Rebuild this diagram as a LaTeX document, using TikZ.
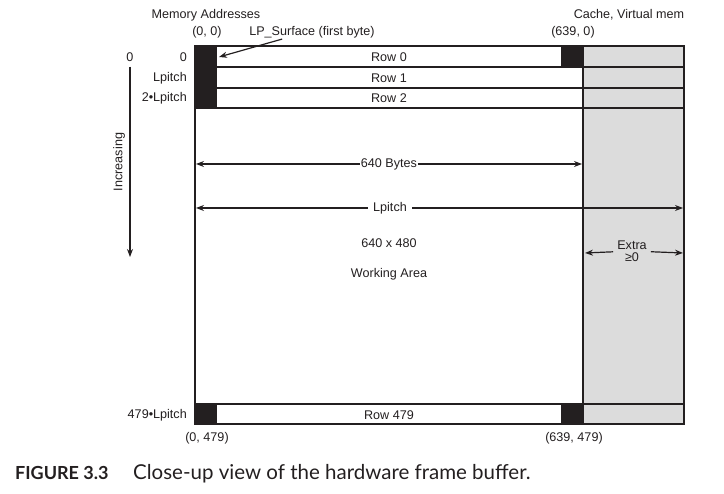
\documentclass[tikz,border=0pt]{standalone}
\usepackage{fontspec}
\setmainfont{Liberation Sans}
\newfontfamily\capfont{Lato}
\definecolor{inkdark}{RGB}{35,31,32}
\definecolor{cachegray}{RGB}{220,220,220}
\usetikzlibrary{arrows.meta,positioning}

\begin{document}
\begin{tikzpicture}[x=1pt, y=-1pt,
    frameline/.style={draw=inkdark, line width=1.5pt},
    lbl/.style={font=\fontsize{12.6}{12}\selectfont, text=inkdark, inner sep=1pt},
    dimarrow/.style={draw=inkdark, line width=1.2pt, -{Stealth[length=8pt,width=6pt]}}]
    \useasboundingbox (0,0) rectangle (724,494);

    % cache column and black corner bytes
    \fill[cachegray] (583,46) rectangle (684,424);
    \fill[inkdark] (195,46) rectangle (217,108);
    \fill[inkdark] (561,46) rectangle (583,67);
    \fill[inkdark] (195,404) rectangle (217,424);
    \fill[inkdark] (561,404) rectangle (583,424);

    % frame buffer outline and rows
    \draw[frameline] (195,46) rectangle (684,424);
    \draw[frameline] (583,46) -- (583,424);
    \foreach \y in {67,88,108,404}
        \draw[frameline] (195,\y) -- (684,\y);

    % row labels
    \node[lbl] (row0) at (389,57) {Row 0};
    \node[lbl] (row1) at (389,78) {Row 1};
    \node[lbl] (row2) at (389,98) {Row 2};
    \node[lbl] (rowlast) at (389,415) {Row 479};

    % memory addresses on the left
    \node[lbl] (memaddr) at (206,15) {Memory Addresses};
    \node[lbl] (origin) at (207,32) {(0, 0)};
    \node[lbl, anchor=east] (addr0) at (188,57) {0};
    \node[lbl, anchor=east] (addr1) at (188,78) {Lpitch};
    \node[lbl, anchor=east] (addr2) at (188,98) {2•Lpitch};
    \node[lbl, anchor=east] (addrlast) at (188,415) {479•Lpitch};
    \node[lbl] (cornerbl) at (207,438) {(0, 479)};
    \node[lbl] (cornerbr) at (574,438) {(639, 479)};
    \node[lbl] (cornertr) at (573,32) {(639, 0)};
    \node[lbl] (cache) at (629,15) {Cache, Virtual mem};

    % first byte pointer
    \node[lbl] (lpsurf) at (312,32) {LP\_Surface (first byte)};
    \coordinate (firstbyte) at (219,57);
    \draw[dimarrow] ([xshift=34pt]lpsurf.south west) -- (firstbyte);

    % increasing addresses
    \node[lbl] (zero) at (130,57) {0};
    \coordinate (incend) at (130,257);
    \draw[dimarrow, shorten <=4pt] (zero) -- (incend);
    \node[lbl, rotate=90] (increasing) at (119,162) {Increasing};

    % widths
    \node[lbl] (bytes) at (389,164) {640 Bytes};
    \coordinate (bytesL) at (196,164);
    \coordinate (bytesR) at (582,164);
    \draw[dimarrow] (bytes) -- (bytesL);
    \draw[dimarrow] (bytes) -- (bytesR);

    \node[lbl, inner xsep=5pt] (pitch) at (390,208) {Lpitch};
    \coordinate (pitchL) at (196,208);
    \coordinate (pitchR) at (683,208);
    \draw[dimarrow] (pitch) -- (pitchL);
    \draw[dimarrow] (pitch) -- (pitchR);

    \node[lbl, align=center, inner xsep=4pt] (extra) at (632,251) {Extra\\≥0};
    \coordinate (extraL) at (585,253);
    \coordinate (extraR) at (683,253);
    \draw[dimarrow] (extra) -- (extraL);
    \draw[dimarrow] (extra) -- (extraR);

    % working area
    \node[lbl] (dims) at (389,243) {640 x 480};
    \node[lbl] (working) at (389,274) {Working Area};

    % caption
    \node[anchor=base west, inner sep=0pt, text=inkdark, font=\capfont\fontsize{18}{20}\selectfont\bfseries] (figno) at (15,480) {FIGURE 3.3};
    \node[anchor=base west, inner sep=0pt, text=inkdark, font=\capfont\fontsize{20.5}{22}\selectfont] (caption) at (133,480) {Close-up view of the hardware frame buffer.};
\end{tikzpicture}
\end{document}
